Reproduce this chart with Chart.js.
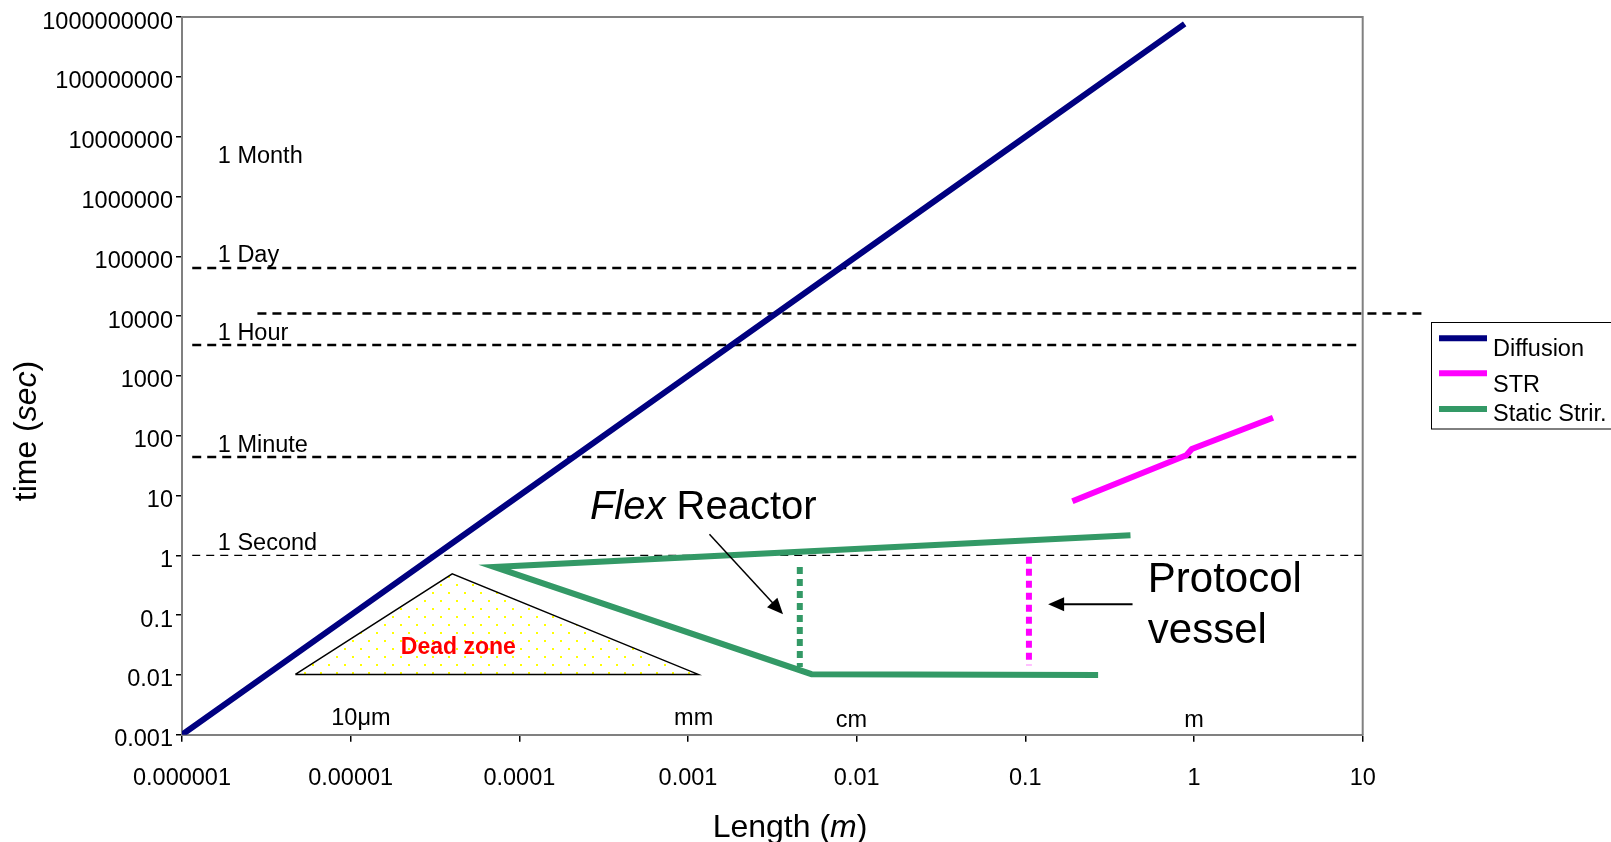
<!DOCTYPE html>
<html>
<head>
<meta charset="utf-8">
<script src="https://cdn.jsdelivr.net/npm/chart.js@4.4.1/dist/chart.umd.min.js"></script>
<style>
html, body { margin: 0; padding: 0; background: #fff; }
canvas { display: block; }
</style>
</head>
<body>
<canvas id="chart" width="1611" height="842"></canvas>
<script>
// axis ticks
const xTicks = [1e-6, 1e-5, 1e-4, 1e-3, 1e-2, 0.1, 1, 10];
const xTickLabels = ['0.000001', '0.00001', '0.0001', '0.001', '0.01', '0.1', '1', '10'];
const yTicks = [0.001, 0.01, 0.1, 1, 10, 100, 1000, 10000, 1e5, 1e6, 1e7, 1e8, 1e9];
const yTickLabels = ['0.001', '0.01', '0.1', '1', '10', '100', '1000', '10000', '100000',
  '1000000', '10000000', '100000000', '1000000000'];

// series (length m, time s)
const diffusionL = [1e-6, 1e-5, 1e-4, 1e-3, 1e-2, 0.1, 0.88];
const diffusionT = [0.001, 0.1, 10, 1000, 1e5, 1e7, 7.7e8];
const strL = [0.19, 0.9, 0.97, 2.94];
const strT = [8, 47, 60, 200];
const staticL = [0.42, 7.1e-5, 5.4e-3, 0.27];
const staticT = [2.16, 0.64, 0.0103, 0.01];

// dotted vessel markers
const flexL = [4.6e-3, 4.6e-3];
const flexT = [0.64, 0.0136];
const protocolL = [0.105, 0.105];
const protocolT = [0.95, 0.0145];

// dead zone triangle
const deadL = [4.7e-6, 4.0e-5, 1.15e-3, 4.7e-6];
const deadT = [0.0102, 0.49, 0.0102, 0.0102];

// dashed reference times
const refT = [64000, 11000, 3300, 44, 1];
const refStart = [1.15e-6, 2.8e-6, 1.15e-6, 1.15e-6, 1.15e-6];
const refEnd = [10, 24, 10, 10, 10];

// text annotations
const timeLabels = ['1 Month', '1 Day', '1 Hour', '1 Minute', '1 Second'];
const timeLabelT = [3.7e6, 7.9e4, 4050, 53, 1.21];
const timeLabelL = 1.63e-6;
const unitLabels = ['10μm', 'mm', 'cm', 'm'];
const unitL = [1.15e-5, 1.08e-3, 9.3e-3, 1];
const unitT = [0.00145, 0.00145, 0.00137, 0.00137];
const flexArrowL = [1.34e-3, 3.66e-3];
const flexArrowT = [2.24, 0.1035];
const protoArrowL = [0.432, 0.1365];
const protoArrowT = [0.152, 0.152];

const FONT = 'Liberation Sans, Arial, sans-serif';
const pts = (xs, ys) => xs.map((x, i) => ({ x: x, y: ys[i] }));

const ctx = document.getElementById('chart').getContext('2d');

// white with yellow dots for the dead zone
const tile = document.createElement('canvas');
tile.width = 16; tile.height = 16;
const tg = tile.getContext('2d');
tg.fillStyle = '#fff'; tg.fillRect(0, 0, 16, 16);
tg.fillStyle = '#ffff00';
tg.fillRect(0, 0, 2, 2); tg.fillRect(8, 8, 2, 2);
const dots = ctx.createPattern(tile, 'repeat');

const line = (label, xs, ys, color, extra) => Object.assign({
  label: label, data: pts(xs, ys), showLine: true, borderColor: color,
  backgroundColor: color, borderWidth: 6, pointRadius: 0, tension: 0, fill: false
}, extra || {});

const datasets = [
  line('Diffusion', diffusionL, diffusionT, '#000080'),
  line('STR', strL, strT, '#ff00ff'),
  line('Static Strir.', staticL, staticT, '#339966'),
  line('flex', flexL, flexT, '#339966', { borderDash: [7, 5] }),
  line('protocol', protocolL, protocolT, '#ff00ff', { borderDash: [7, 5] }),
  line('dead', deadL, deadT, '#000', { borderWidth: 1.5, fill: 'shape', backgroundColor: dots })
];
refT.forEach((t, i) => {
  datasets.push(line('ref' + i, [refStart[i], refEnd[i]], [t, t], '#000', {
    borderWidth: i === 4 ? 1.2 : 2.5,
    borderDash: i === 4 ? [8, 6] : [9, 6],
    clip: false
  }));
});
const legendCount = 3;

function arrow(c, x1, y1, x2, y2) {
  const a = Math.atan2(y2 - y1, x2 - x1), len = 16, hw = 7;
  c.beginPath();
  c.moveTo(x1, y1);
  c.lineTo(x2 - len * 0.8 * Math.cos(a), y2 - len * 0.8 * Math.sin(a));
  c.stroke();
  c.beginPath();
  c.moveTo(x2, y2);
  c.lineTo(x2 - len * Math.cos(a) + hw * Math.sin(a), y2 - len * Math.sin(a) - hw * Math.cos(a));
  c.lineTo(x2 - len * Math.cos(a) - hw * Math.sin(a), y2 - len * Math.sin(a) + hw * Math.cos(a));
  c.closePath();
  c.fill();
}

// text made of normal and italic pieces: [text, italic]
function drawMixed(c, parts, x, y, size, align) {
  let w = 0;
  parts.forEach(p => { c.font = (p[1] ? 'italic ' : '') + size + 'px ' + FONT; w += c.measureText(p[0]).width; });
  let cx = align === 'center' ? x - w / 2 : x;
  c.textAlign = 'left';
  parts.forEach(p => {
    c.font = (p[1] ? 'italic ' : '') + size + 'px ' + FONT;
    c.fillText(p[0], cx, y);
    cx += c.measureText(p[0]).width;
  });
}

const overlay = {
  id: 'overlay',
  afterDraw(chart) {
    const c = chart.ctx, a = chart.chartArea;
    const px = v => chart.scales.x.getPixelForValue(v);
    const py = v => chart.scales.y.getPixelForValue(v);
    c.save();
    // frame top / right
    c.strokeStyle = '#808080'; c.lineWidth = 2;
    c.beginPath(); c.moveTo(a.left, a.top); c.lineTo(a.right, a.top); c.lineTo(a.right, a.bottom); c.stroke();

    c.fillStyle = '#000'; c.textBaseline = 'alphabetic';
    c.font = '23.5px ' + FONT; c.textAlign = 'left';
    timeLabels.forEach((t, i) => c.fillText(t, px(timeLabelL), py(timeLabelT[i])));
    c.textAlign = 'center';
    unitLabels.forEach((t, i) => c.fillText(t, px(unitL[i]), py(unitT[i])));

    c.fillStyle = '#ff0000'; c.font = 'bold 23px ' + FONT;
    c.fillText('Dead zone', px(4.35e-5), py(0.022));

    c.fillStyle = '#000';
    drawMixed(c, [['Flex', true], [' Reactor', false]], px(2.62e-4), py(4.1), 40, 'left');
    c.font = '42px ' + FONT; c.textAlign = 'left';
    c.fillText('Protocol', px(0.532), py(0.244));
    c.fillText('vessel', px(0.532), py(0.0336));

    c.strokeStyle = '#000'; c.lineWidth = 1.5;
    arrow(c, px(flexArrowL[0]), py(flexArrowT[0]), px(flexArrowL[1]), py(flexArrowT[1]));
    c.lineWidth = 2;
    arrow(c, px(protoArrowL[0]), py(protoArrowT[0]), px(protoArrowL[1]), py(protoArrowT[1]));

    // axis titles
    drawMixed(c, [['Length (', false], ['m', true], [')', false]], 790, 837, 32, 'center');
    c.save();
    c.translate(36, 431); c.rotate(-Math.PI / 2);
    drawMixed(c, [['time (', false], ['sec', true], [')', false]], 0, 0, 32, 'center');
    c.restore();

    // legend
    c.strokeStyle = '#000'; c.lineWidth = 1;
    c.strokeRect(1431.5, 322.5, 200, 106.5);
    const lineY = [338.3, 373.3, 409], textY = [355.7, 391.7, 421];
    c.font = '23.5px ' + FONT; c.textAlign = 'left';
    for (let i = 0; i < legendCount; i++) {
      const ds = chart.data.datasets[i];
      c.strokeStyle = ds.borderColor; c.lineWidth = 6;
      c.beginPath(); c.moveTo(1439, lineY[i]); c.lineTo(1487, lineY[i]); c.stroke();
      c.fillStyle = '#000';
      c.fillText(ds.label, 1493, textY[i]);
    }
    c.restore();
  }
};

Chart.defaults.font.family = FONT;
Chart.defaults.font.size = 23.5;
Chart.defaults.color = '#000';

new Chart(ctx, {
  type: 'scatter',
  data: { datasets: datasets },
  options: {
    responsive: false,
    animation: false,
    layout: { padding: { left: 0, top: 16, right: 248.3, bottom: 0 } },
    plugins: { legend: { display: false }, tooltip: { enabled: false } },
    scales: {
      x: {
        type: 'logarithmic', min: 1e-6, max: 10,
        afterBuildTicks: s => { s.ticks = xTicks.map(v => ({ value: v })); },
        afterFit: s => { s.height = 107.3; },
        ticks: { autoSkip: false, maxRotation: 0, padding: 23, callback: (v, i) => xTickLabels[i] },
        grid: { drawOnChartArea: false, drawTicks: true, tickLength: 7, color: '#000', lineWidth: 1.5 },
        border: { color: '#808080', width: 2 }
      },
      y: {
        type: 'logarithmic', min: 0.001, max: 1e9,
        afterBuildTicks: s => { s.ticks = yTicks.map(v => ({ value: v })); },
        afterFit: s => { s.width = 182; },
        ticks: { autoSkip: false, padding: 3, labelOffset: 5, callback: (v, i) => yTickLabels[i] },
        grid: { drawOnChartArea: false, drawTicks: true, tickLength: 6, color: '#000', lineWidth: 1.5 },
        border: { color: '#808080', width: 2 }
      }
    }
  },
  plugins: [overlay]
});
</script>
</body>
</html>
